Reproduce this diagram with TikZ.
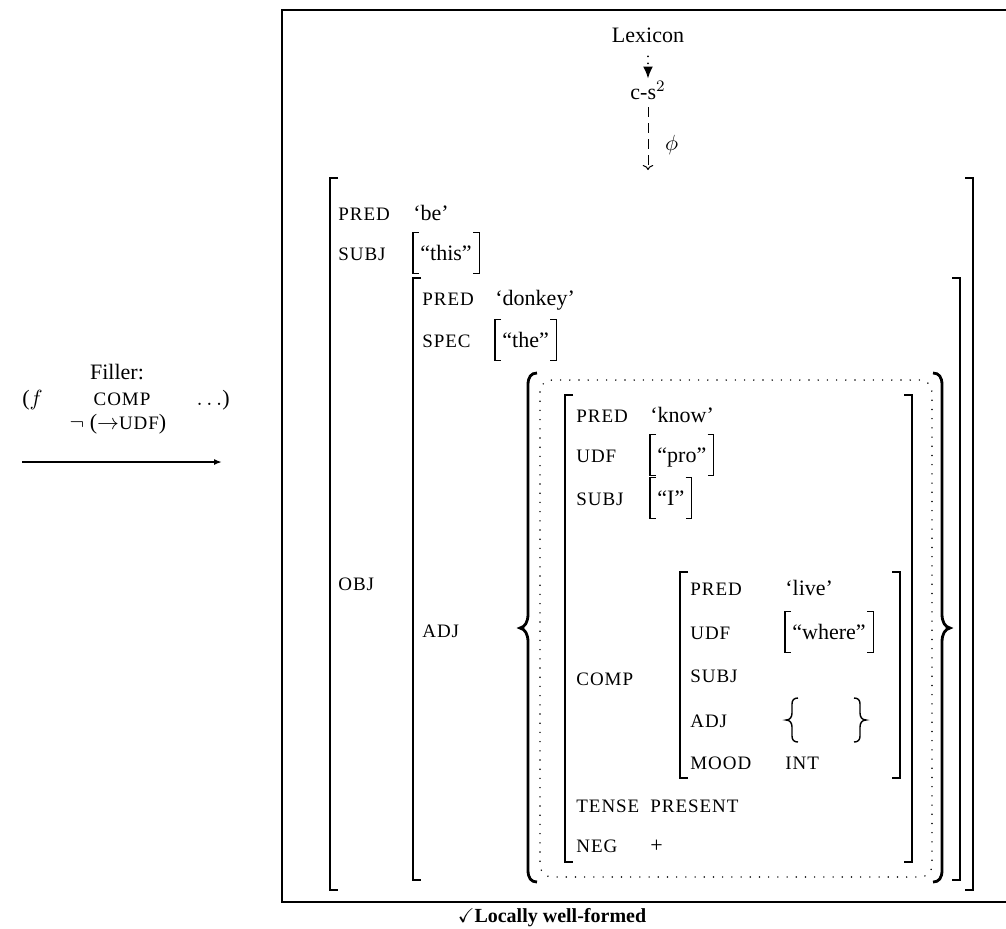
\documentclass[tikz,border=0pt]{standalone}
\usepackage{amssymb}
\usepackage{fontspec}
\setmainfont{Liberation Serif}
\usetikzlibrary{arrows.meta,positioning}
\newcommand{\featfont}{\fontsize{9.5}{11}\selectfont\addfontfeature{LetterSpace=5}}
\newcommand{\sqbr}[1]{%
  \draw[brk] ([xshift=3pt]#1.north west) -- (#1.north west) -- (#1.south west) -- ([xshift=3pt]#1.south west);
  \draw[brk] ([xshift=-3pt]#1.north east) -- (#1.north east) -- (#1.south east) -- ([xshift=-3pt]#1.south east);}
\tikzset{
  txt/.style={anchor=west, inner sep=0pt, text height=7pt, text depth=0pt},
  ctr/.style={txt, anchor=center},
  feat/.style={txt, font=\featfont},
  val/.style={txt},
  bval/.style={anchor=west, inner xsep=3.5pt, inner ysep=0pt, minimum height=20.5pt, text height=7.5pt, text depth=0pt},
  brk/.style={line width=0.55pt},
  smallbrace/.style={line width=0.7pt},
  setbrace/.style={line width=1.4pt},
  frame/.style={line width=1.2pt},
  dotbox/.style={line width=0.8pt, dash pattern=on 0pt off 4.6pt, line cap=round, rounded corners=6pt},
  dotflow/.style={-{Latex[length=6pt,width=5pt]}, line width=1pt, dash pattern=on 0pt off 3.5pt, line cap=round},
  dashflow/.style={-{To[length=2.5pt]}, line width=0.5pt, dash pattern=on 5pt off 3pt},
  flow/.style={-{Latex[length=4pt,width=3pt]}, line width=0.8pt}
}
\begin{document}
\begin{tikzpicture}[x=0.5pt, y=-0.5pt, font=\fontsize{11}{13}\selectfont]
  \useasboundingbox (0,0) rectangle (1006,928);
  \draw[frame] (1006,10) -| (282,902) -- (1006,902);
  \node[ctr] (lex) at (648,35) {Lexicon};
  \node[ctr] (cs) at (648,92) {c-s$^2$};
  \coordinate (fs) at (648,170);
  \draw[dotflow] ([yshift=-7pt]lex.south) -- ([yshift=3pt]cs.north);
  \draw[dashflow] ([yshift=-4pt]cs.south) -- (fs) node[pos=0.6, right=5pt] {$\phi$};

  \node[ctr] (filler) at (117,372) {Filler:};
  \node[txt] (fpar) at (22,398) {($f$};
  \node[feat, anchor=center] (fcomp) at (122,398) {COMP};
  \node[txt, anchor=east] (fdots) at (230,398) {$\ldots$)};
  \node[ctr] (fneg) at (118,422) {$\neg$ ($\rightarrow${\featfont UDF})};
  \coordinate (fa) at (22,462);
  \coordinate (fb) at (222,462);
  \draw[flow] (fa) -- (fb);

  \draw[brk] (338,178) -| (330,890) -- (338,890);
  \draw[brk] (965,178) -| (973,890) -- (965,890);
  \node[feat] (pred1) at (338,213) {PRED};
  \node[val] (be) at (413,213) {‘be’};
  \node[feat] (subj1) at (338,253) {SUBJ};
  \node[bval] (this) at (413,253) {“this”};
  \sqbr{this}
  \node[feat] (obj1) at (338,583) {OBJ};

  \draw[brk] (421,278) -| (413,880) -- (421,880);
  \draw[brk] (952,278) -| (960,880) -- (952,880);
  \node[feat] (pred2) at (422,298) {PRED};
  \node[val] (donkey) at (495,298) {‘donkey’};
  \node[feat] (spec2) at (422,340) {SPEC};
  \node[bval] (the) at (495,340) {“the”};
  \sqbr{the}
  \node[feat] (adj2) at (422,630) {ADJ};
  \draw[setbrace] (537,373) .. controls (531,373) and (528,377) .. (528,385) -- (528,614)
    .. controls (528,622) and (525,627) .. (520,628) .. controls (525,629) and (528,634) .. (528,642)
    -- (528,870) .. controls (528,878) and (531,882) .. (537,882);
  \draw[setbrace] (933,373) .. controls (939,373) and (942,377) .. (942,385) -- (942,614)
    .. controls (942,622) and (945,627) .. (950,628) .. controls (945,629) and (942,634) .. (942,642)
    -- (942,870) .. controls (942,878) and (939,882) .. (933,882);
  \draw[dotbox] (540,380) rectangle (932,877);

  \draw[brk] (573,395) -| (565,862) -- (573,862);
  \draw[brk] (904,395) -| (912,862) -- (904,862);
  \node[feat] (pred3) at (576,415) {PRED};
  \node[val] (know) at (650,415) {‘know’};
  \node[feat] (udf3) at (576,455) {UDF};
  \node[bval] (pro) at (650,455) {“pro”};
  \sqbr{pro}
  \node[feat] (subj3) at (576,498) {SUBJ};
  \node[bval] (I) at (650,498) {“I”};
  \sqbr{I}
  \node[feat] (comp3) at (576,678) {COMP};
  \node[feat] (tense3) at (576,805) {TENSE};
  \node[feat] (present) at (650,805) {PRESENT};
  \node[feat] (neg3) at (576,845) {NEG};
  \node[val] (plus) at (650,845) {+};

  \draw[brk] (688,572) -| (680,778) -- (688,778);
  \draw[brk] (892,572) -| (900,778) -- (892,778);
  \node[feat] (pred4) at (690,588) {PRED};
  \node[val] (live) at (785,588) {‘live’};
  \node[feat] (udf4) at (690,632) {UDF};
  \node[bval] (where) at (785,632) {“where”};
  \sqbr{where}
  \node[feat] (subj4) at (690,675) {SUBJ};
  \node[feat] (adj4) at (690,720) {ADJ};
  \draw[smallbrace] (798,698) .. controls (794,698) and (792,700) .. (792,704) -- (792,713)
    .. controls (792,717) and (790,720) .. (786,720) .. controls (790,720) and (792,723) .. (792,727)
    -- (792,736) .. controls (792,740) and (794,742) .. (798,742);
  \draw[smallbrace] (854,698) .. controls (858,698) and (860,700) .. (860,704) -- (860,713)
    .. controls (860,717) and (862,720) .. (866,720) .. controls (862,720) and (860,723) .. (860,727)
    -- (860,736) .. controls (860,740) and (858,742) .. (854,742);
  \node[feat] (mood4) at (690,762) {MOOD};
  \node[feat] (int4) at (785,762) {INT};

  \node[ctr, font=\fontsize{10}{12}\selectfont\bfseries] (ok) at (552,915) {$\checkmark$Locally well-formed};
\end{tikzpicture}
\end{document}
